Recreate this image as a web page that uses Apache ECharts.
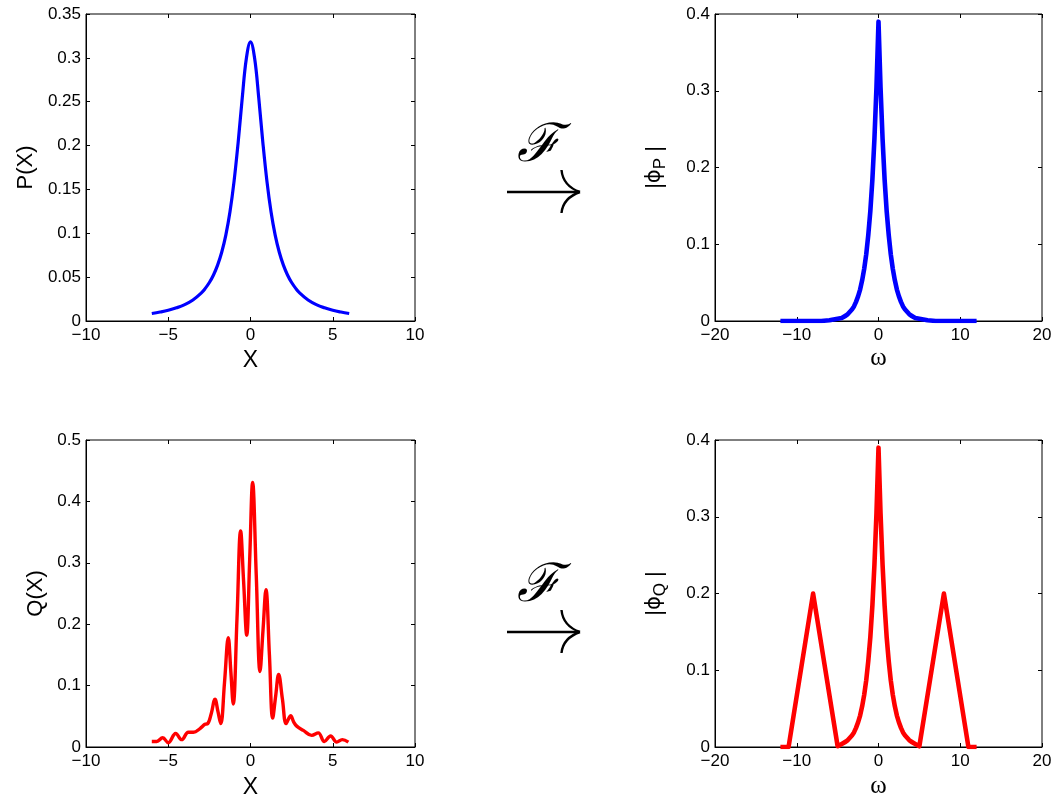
<!DOCTYPE html>
<html>
<head>
<meta charset="utf-8">
<script src="https://cdn.jsdelivr.net/npm/echarts@6/dist/echarts.min.js"></script>
<style>
  html, body { margin: 0; padding: 0; background: #fff; }
  #chart { width: 1057px; height: 794px; }
</style>
</head>
<body>
<div id="chart"></div>
<script>
// P(X): density in x
const pX = [-6, -5.5, -5, -4.5, -4, -3.5, -3, -2.75, -2.5, -2.25, -2, -1.75, -1.5, -1.25, -1, -0.75, -0.5, -0.25, 0,
            0.25, 0.5, 0.75, 1, 1.25, 1.5, 1.75, 2, 2.25, 2.5, 2.75, 3, 3.5, 4, 4.5, 5, 5.5, 6];
const pY = [0.0086, 0.0102, 0.0122, 0.0150, 0.0187, 0.0240, 0.0318, 0.0372, 0.0439, 0.0525, 0.0637, 0.0784, 0.0979, 0.1242, 0.1592, 0.2037, 0.2546, 0.2996, 0.3183,
            0.2996, 0.2546, 0.2037, 0.1592, 0.1242, 0.0979, 0.0784, 0.0637, 0.0525, 0.0439, 0.0372, 0.0318, 0.0240, 0.0187, 0.0150, 0.0122, 0.0102, 0.0086];

// |phi_P|: magnitude of the transform of P
const phiPW = [-12, -10, -8, -7, -6, -5.5, -5, -4.5, -4, -3.75, -3.5, -3.25, -3, -2.75, -2.5, -2.25, -2, -1.75, -1.5, -1.25, -1, -0.75, -0.5, -0.25, 0,
               0.25, 0.5, 0.75, 1, 1.25, 1.5, 1.75, 2, 2.25, 2.5, 2.75, 3, 3.25, 3.5, 3.75, 4, 4.5, 5, 5.5, 6, 7, 8, 10, 12];
const phiPY = [0, 0, 0, 0, 0.001, 0.002, 0.003, 0.004, 0.007, 0.009, 0.012, 0.015, 0.019, 0.025, 0.032, 0.041, 0.053, 0.068, 0.087, 0.112, 0.143, 0.184, 0.237, 0.304, 0.390,
               0.304, 0.237, 0.184, 0.143, 0.112, 0.087, 0.068, 0.053, 0.041, 0.032, 0.025, 0.019, 0.015, 0.012, 0.009, 0.007, 0.004, 0.003, 0.002, 0.001, 0, 0, 0, 0];

// Q(X): oscillating density in x
const qX = [-6.0, -5.7, -5.34, -5.0, -4.55, -4.18, -3.78, -3.47, -3.07, -2.77, -2.6, -2.38, -2.16, -1.98, -1.81, -1.58, -1.35, -1.2, -1.05,
            -0.82, -0.6, -0.42, -0.23, -0.05, 0.13, 0.35, 0.58, 0.76, 0.94, 1.15, 1.35, 1.53, 1.71, 1.94, 2.16, 2.3, 2.44, 2.62, 2.81,
            3.21, 3.72, 4.12, 4.49, 4.87, 5.24, 5.58, 5.95];
const qY = [0.009, 0.009, 0.015, 0.007, 0.022, 0.012, 0.024, 0.024, 0.030, 0.037, 0.038, 0.055, 0.078, 0.058, 0.038, 0.105, 0.178, 0.125, 0.070,
            0.210, 0.352, 0.270, 0.182, 0.305, 0.431, 0.280, 0.123, 0.190, 0.256, 0.150, 0.047, 0.083, 0.118, 0.078, 0.038, 0.045, 0.051, 0.041, 0.034,
            0.027, 0.019, 0.023, 0.009, 0.018, 0.008, 0.012, 0.008];

// |phi_Q|: magnitude of the transform of Q
const phiQW = [-12, -11, -8, -5, -4.5, -4, -3.75, -3.5, -3.25, -3, -2.75, -2.5, -2.25, -2, -1.75, -1.5, -1.25, -1, -0.75, -0.5, -0.25, 0,
               0.25, 0.5, 0.75, 1, 1.25, 1.5, 1.75, 2, 2.25, 2.5, 2.75, 3, 3.25, 3.5, 3.75, 4, 4.5, 5, 8, 11, 12];
const phiQY = [0, 0, 0.2, 0.001, 0.004, 0.007, 0.009, 0.012, 0.015, 0.019, 0.025, 0.032, 0.041, 0.053, 0.068, 0.087, 0.112, 0.143, 0.184, 0.237, 0.304, 0.390,
               0.304, 0.237, 0.184, 0.143, 0.112, 0.087, 0.068, 0.053, 0.041, 0.032, 0.025, 0.019, 0.015, 0.012, 0.009, 0.007, 0.004, 0.001, 0.2, 0, 0];

// axis ranges: [min, max, interval]
const xRangeX = [-10, 10, 5];
const xRangeW = [-20, 20, 10];
const yRangeP = [0, 0.35, 0.05];
const yRangePhiP = [0, 0.4, 0.1];
const yRangeQ = [0, 0.5, 0.1];
const yRangePhiQ = [0, 0.4, 0.1];

const pairs = (xs, ys) => xs.map((x, i) => [x, ys[i]]);

const SANS = '"Liberation Sans", Arial, Helvetica, sans-serif';
const SERIF = '"Liberation Serif", "Times New Roman", serif';
const tickFont = { color: '#000', fontFamily: SANS, fontSize: 17 };
const minusFmt = v => String(v).replace('-', '\u2212');

// fixed plot boxes; outer bounds off so axis names never shrink them
const grids = [
  { left: 86, top: 14, width: 329, height: 307 },
  { left: 715, top: 14, width: 327, height: 307 },
  { left: 86, top: 440, width: 329, height: 307 },
  { left: 715, top: 440, width: 327, height: 307 }
].map(g => Object.assign(g, {
  show: true, borderColor: '#000', borderWidth: 1, backgroundColor: '#fff',
  containLabel: false, outerBoundsMode: 'none'
}));

const tickStyle = { show: true, inside: true, length: 4, lineStyle: { color: '#000', width: 1 } };

function mainX(grid, r, name, nameStyle, gap) {
  return {
    type: 'value', gridIndex: grid, position: 'bottom', min: r[0], max: r[1], interval: r[2],
    name: name, nameLocation: 'middle', nameGap: gap, nameTextStyle: nameStyle,
    axisLine: { show: true, onZero: false, lineStyle: { color: '#000', width: 1 } },
    axisTick: tickStyle,
    axisLabel: Object.assign({ margin: 6, formatter: minusFmt }, tickFont),
    splitLine: { show: false }
  };
}
function mirrorX(grid, r) {
  return {
    type: 'value', gridIndex: grid, position: 'top', min: r[0], max: r[1], interval: r[2],
    axisLine: { show: false, onZero: false }, axisLabel: { show: false }, splitLine: { show: false },
    axisTick: tickStyle
  };
}
function mainY(grid, r, name, gap, rich) {
  return {
    type: 'value', gridIndex: grid, position: 'left', min: r[0], max: r[1], interval: r[2],
    name: name, nameLocation: 'middle', nameGap: gap, nameRotate: 90,
    nameTextStyle: Object.assign({ color: '#000', fontFamily: SANS, fontSize: 22 }, rich ? { rich: rich } : {}),
    axisLine: { show: true, onZero: false, lineStyle: { color: '#000', width: 1 } },
    axisTick: tickStyle,
    axisLabel: Object.assign({ margin: 5 }, tickFont),
    splitLine: { show: false }
  };
}
function mirrorY(grid, r) {
  return {
    type: 'value', gridIndex: grid, position: 'right', min: r[0], max: r[1], interval: r[2],
    axisLine: { show: false, onZero: false }, axisLabel: { show: false }, splitLine: { show: false },
    axisTick: tickStyle
  };
}

const xName = { color: '#000', fontFamily: SANS, fontSize: 23 };
const wName = { color: '#000', fontFamily: SERIF, fontSize: 25 };
const phiRich = {
  a: { fontFamily: SANS, fontSize: 22, lineHeight: 28, color: '#000' },
  f: { fontFamily: '"DejaVu Sans", sans-serif', fontSize: 21, lineHeight: 28, color: '#000' },
  s: { fontFamily: SANS, fontSize: 17, lineHeight: 17, color: '#000', verticalAlign: 'bottom' }
};

function lineSeries(xi, data, color, width, smooth) {
  return {
    type: 'line', xAxisIndex: xi, yAxisIndex: xi, data: data, showSymbol: false, symbol: 'none',
    smooth: smooth, animation: false,
    lineStyle: { color: color, width: width, join: 'round', cap: 'butt' }
  };
}

// transform sign and arrow between the columns
function arrowGroup(cy) {
  return [
    {
      type: 'text', left: 517, top: cy - 71,
      style: { text: '\u2131', font: 'italic 53px "DejaVu Serif", serif', fill: '#000' }
    },
    {
      type: 'line', shape: { x1: 507, y1: cy, x2: 579, y2: cy },
      style: { stroke: '#000', lineWidth: 2.6 }
    },
    {
      type: 'bezierCurve', shape: { x1: 561.5, y1: cy - 22, cpx1: 563, cpy1: cy - 6, x2: 580, y2: cy },
      style: { stroke: '#000', lineWidth: 2.4, fill: null }
    },
    {
      type: 'bezierCurve', shape: { x1: 561.5, y1: cy + 21, cpx1: 563, cpy1: cy + 6, x2: 580, y2: cy },
      style: { stroke: '#000', lineWidth: 2.4, fill: null }
    }
  ];
}

const chart = echarts.init(document.getElementById('chart'), null, { renderer: 'canvas' });
chart.setOption({
  backgroundColor: '#fff',
  animation: false,
  grid: grids,
  xAxis: [
    mainX(0, xRangeX, 'X', xName, 28),
    mainX(1, xRangeW, '\u03c9', wName, 25),
    mainX(2, xRangeX, 'X', xName, 29),
    mainX(3, xRangeW, '\u03c9', wName, 27),
    mirrorX(0, xRangeX), mirrorX(1, xRangeW), mirrorX(2, xRangeX), mirrorX(3, xRangeW)
  ],
  yAxis: [
    mainY(0, yRangeP, 'P(X)', 49),
    mainY(1, yRangePhiP, '{a||}{f|\u03d5}{s|P}{a| |}', 46, phiRich),
    mainY(2, yRangeQ, 'Q(X)', 39),
    mainY(3, yRangePhiQ, '{a||}{f|\u03d5}{s|Q}{a| |}', 46, phiRich),
    mirrorY(0, yRangeP), mirrorY(1, yRangePhiP), mirrorY(2, yRangeQ), mirrorY(3, yRangePhiQ)
  ],
  series: [
    lineSeries(0, pairs(pX, pY), '#0000ff', 3.2, 0.4),
    lineSeries(1, pairs(phiPW, phiPY), '#0000ff', 4.6, false),
    lineSeries(2, pairs(qX, qY), '#ff0000', 3.4, 0.4),
    lineSeries(3, pairs(phiQW, phiQY), '#ff0000', 4.6, false)
  ],
  graphic: arrowGroup(192).concat(arrowGroup(632))
});
</script>
</body>
</html>
